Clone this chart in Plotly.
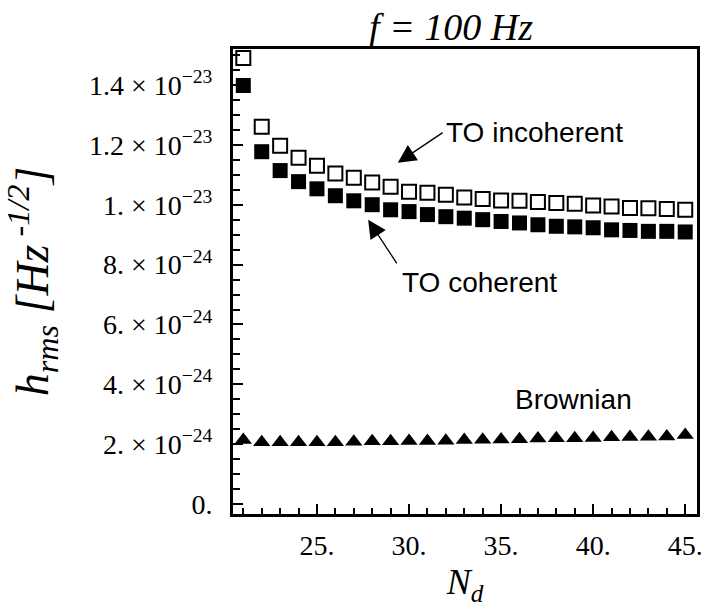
import plotly.graph_objects as go

# ---- data (values in units of 1e-24) ----
N_d = list(range(21, 46))
to_incoherent = [14.9, 12.6, 11.97, 11.57, 11.3, 11.04, 10.9, 10.74, 10.6, 10.43, 10.4, 10.33,
                 10.24, 10.19, 10.14, 10.13, 10.09, 10.06, 10.03, 9.97, 9.94, 9.89, 9.88, 9.86, 9.83]
to_coherent = [13.98, 11.77, 11.14, 10.77, 10.53, 10.3, 10.13, 10.0, 9.83, 9.77, 9.67, 9.6,
               9.55, 9.50, 9.44, 9.39, 9.33, 9.28, 9.26, 9.23, 9.16, 9.14, 9.11, 9.11, 9.09]
brownian = [2.14, 2.07, 2.07, 2.07, 2.07, 2.07, 2.08, 2.10, 2.10, 2.11, 2.11, 2.12,
            2.14, 2.15, 2.16, 2.17, 2.19, 2.20, 2.20, 2.21, 2.23, 2.24, 2.25, 2.26, 2.31]
scale = 1e-24

x_tickvals = [25, 30, 35, 40, 45]
x_ticktext = ["25.", "30.", "35.", "40.", "45."]
x_minorvals = [v for v in range(21, 46) if v not in x_tickvals]
y_tickvals = [0, 2e-24, 4e-24, 6e-24, 8e-24, 1e-23, 1.2e-23, 1.4e-23]
y_ticktext = ["0.",
              "2. × 10<sup>−24</sup>", "4. × 10<sup>−24</sup>", "6. × 10<sup>−24</sup>",
              "8. × 10<sup>−24</sup>", "1. × 10<sup>−23</sup>", "1.2 × 10<sup>−23</sup>",
              "1.4 × 10<sup>−23</sup>"]
y_minorvals = [k * 0.5e-24 for k in range(0, 31) if k % 4 != 0]

SERIF = "Liberation Serif"
SANS = "Liberation Sans"

fig = go.Figure()
fig.add_trace(go.Scatter(x=N_d, y=[v * scale for v in to_incoherent], mode="markers",
                         name="TO incoherent",
                         marker=dict(symbol="square-open", size=14, color="black",
                                     line=dict(width=2, color="black"))))
fig.add_trace(go.Scatter(x=N_d, y=[v * scale for v in to_coherent], mode="markers",
                         name="TO coherent",
                         marker=dict(symbol="square", size=15, color="black",
                                     line=dict(width=0))))
fig.add_trace(go.Scatter(x=N_d, y=[v * scale for v in brownian], mode="markers",
                         name="Brownian",
                         marker=dict(symbol="triangle-up", size=15, color="black",
                                     line=dict(width=0))))

# text labels
fig.add_annotation(x=36.79, y=12.41e-24, text="TO incoherent", showarrow=False,
                   font=dict(family=SANS, size=28, color="black"))
fig.add_annotation(x=33.84, y=7.39e-24, text="TO coherent", showarrow=False,
                   font=dict(family=SANS, size=28, color="black"))
fig.add_annotation(x=38.93, y=3.51e-24, text="Brownian", showarrow=False,
                   font=dict(family=SANS, size=28, color="black"))
# arrows
fig.add_annotation(x=29.39, y=11.40e-24, ax=31.91, ay=12.44e-24, axref="x", ayref="y",
                   text="", showarrow=True, arrowhead=2, arrowsize=2.8, arrowwidth=1.3,
                   arrowcolor="black", standoff=0, startstandoff=0)
fig.add_annotation(x=27.78, y=9.50e-24, ax=29.39, ay=7.99e-24, axref="x", ayref="y",
                   text="", showarrow=True, arrowhead=2, arrowsize=2.8, arrowwidth=1.3,
                   arrowcolor="black", standoff=0, startstandoff=0)

fig.update_layout(
    width=705, height=607,
    margin=dict(l=233, r=2, t=49, b=93),
    paper_bgcolor="white", plot_bgcolor="white",
    showlegend=False,
    title=dict(text="f = 100 Hz", x=0.47, xref="paper", y=1 - 27 / 607, yref="container",
               xanchor="center", yanchor="middle",
               font=dict(family=SERIF, size=38, color="black", style="italic")),
    xaxis=dict(range=[20.44, 45.64], showgrid=False, zeroline=False,
               showline=True, linewidth=3, linecolor="black", mirror=True,
               ticks="inside", ticklen=10, tickwidth=2, tickcolor="black",
               tickvals=x_tickvals, ticktext=x_ticktext,
               tickfont=dict(family=SERIF, size=28, color="black"),
               ticklabelstandoff=4, ticklabeloverflow="allow",
               minor=dict(tickvals=x_minorvals, ticks="inside", ticklen=6,
                          tickwidth=2, tickcolor="black", showgrid=False),
               title=dict(text="N<sub>d</sub>", standoff=10,
                          font=dict(family=SERIF, size=36, color="black", style="italic"))),
    yaxis=dict(range=[-0.33e-24, 15.2e-24], showgrid=False, zeroline=False,
               showline=True, linewidth=3, linecolor="black", mirror=True,
               ticks="inside", ticklen=10, tickwidth=2, tickcolor="black",
               tickvals=y_tickvals, ticktext=y_ticktext,
               tickfont=dict(family=SERIF, size=28, color="black"),
               ticklabelstandoff=12,
               minor=dict(tickvals=y_minorvals, ticks="inside", ticklen=7,
                          tickwidth=2, tickcolor="black", showgrid=False),
               title=dict(text="h<sub>rms</sub> [Hz<sup> -1/2</sup>]", standoff=26,
                          font=dict(family=SERIF, size=46, color="black", style="italic"))),
)

fig.write_html("out.html")
